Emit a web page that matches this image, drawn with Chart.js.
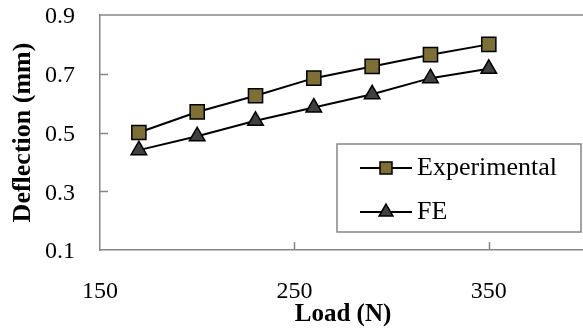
<!DOCTYPE html>
<html>
<head>
<meta charset="utf-8">
<script src="https://cdn.jsdelivr.net/npm/chart.js@4/dist/chart.umd.min.js"></script>
<style>
html,body{margin:0;padding:0;background:#fff;overflow:hidden;}
#wrap{width:583px;height:328px;overflow:hidden;}
canvas{display:block;}
</style>
</head>
<body>
<div id="wrap"><canvas id="c" width="600" height="328"></canvas></div>
<script>
// ---- data ----
const loads = [170, 200, 230, 260, 290, 320, 350];
const experimental = [0.50, 0.57, 0.625, 0.685, 0.725, 0.765, 0.80];
const fe = [0.44, 0.487, 0.54, 0.585, 0.63, 0.685, 0.717];
const xTicks = [150, 250, 350];
const yTicks = [0.1, 0.3, 0.5, 0.7, 0.9];
const seriesNames = ['Experimental', 'FE'];
const xTitle = 'Load (N)';
const yTitle = 'Deflection (mm)';

const AXIS = '#868686';
const SERIF = "'Liberation Serif', 'Times New Roman', serif";

function pts(ys){ return loads.map((x,i)=>({x:x, y:ys[i]})); }

const frame = {
  id: 'frame',
  afterDraw(chart){
    const {ctx, chartArea:a, scales:{x, y}} = chart;
    ctx.save();
    ctx.strokeStyle = AXIS;
    ctx.lineWidth = 1.5;
    // top border
    ctx.beginPath();
    ctx.moveTo(a.left, a.top); ctx.lineTo(a.right, a.top);
    ctx.stroke();
    // inner tick marks
    ctx.beginPath();
    yTicks.forEach(v=>{
      if (v === y.min || v === y.max) return;
      const py = Math.round(y.getPixelForValue(v)) + 0.5;
      ctx.moveTo(a.left, py); ctx.lineTo(a.left + 8, py);
    });
    xTicks.forEach(v=>{
      if (v === x.min || v === x.max) return;
      const px = Math.round(x.getPixelForValue(v)) + 0.5;
      ctx.moveTo(px, a.bottom); ctx.lineTo(px, a.bottom - 8);
    });
    ctx.stroke();

    // legend
    const bx = 337, by = 144, bw = 244, bh = 88;
    ctx.fillStyle = '#fff';
    ctx.fillRect(bx, by, bw, bh);
    ctx.strokeStyle = AXIS;
    ctx.lineWidth = 1.5;
    ctx.strokeRect(bx, by, bw, bh);
    const rows = [168, 212];
    chart.data.datasets.forEach((ds, i)=>{
      const ry = rows[i];
      ctx.strokeStyle = ds.borderColor;
      ctx.lineWidth = 2;
      ctx.beginPath();
      ctx.moveTo(360, ry); ctx.lineTo(412, ry);
      ctx.stroke();
      ctx.fillStyle = ds.pointBackgroundColor;
      ctx.strokeStyle = ds.pointBorderColor;
      ctx.lineWidth = ds.pointBorderWidth;
      Chart.helpers.drawPoint(ctx, {
        pointStyle: ds.pointStyle,
        radius: ds.pointStyle === 'rect' ? 8.5 : 8,
        rotation: 0,
        borderWidth: ds.pointBorderWidth
      }, 386, ry);
      ctx.fillStyle = '#000';
      ctx.font = '26px ' + SERIF;
      ctx.textAlign = 'left';
      ctx.textBaseline = 'middle';
      ctx.fillText(ds.label, 417, ry);
    });
    ctx.restore();
  }
};

new Chart(document.getElementById('c'), {
  type: 'line',
  data: {
    datasets: [
      {
        label: seriesNames[0],
        data: pts(experimental),
        borderColor: '#000',
        borderWidth: 2,
        pointStyle: 'rect',
        pointRadius: 10,
        pointBackgroundColor: '#7d6f35',
        pointBorderColor: '#000',
        pointBorderWidth: 1.5,
        tension: 0
      },
      {
        label: seriesNames[1],
        data: pts(fe),
        borderColor: '#000',
        borderWidth: 2,
        pointStyle: 'triangle',
        pointRadius: 9,
        pointBackgroundColor: '#404040',
        pointBorderColor: '#000',
        pointBorderWidth: 1.5,
        tension: 0
      }
    ]
  },
  options: {
    responsive: false,
    animation: false,
    devicePixelRatio: 1,
    layout: { padding: { top: 15, right: 14, left: 0, bottom: 0 } },
    plugins: { legend: { display: false }, tooltip: { enabled: false } },
    scales: {
      x: {
        type: 'linear',
        min: 150, max: 400,
        afterBuildTicks: s => { s.ticks = xTicks.map(v=>({value:v})); },
        afterFit: s => { s.height = 78; s.paddingLeft = 0; s.paddingRight = 0; },
        grid: { display: false, drawTicks: false },
        border: { display: true, color: AXIS, width: 1.5 },
        ticks: {
          padding: 27,
          color: '#000',
          font: { family: SERIF, size: 24 },
          maxRotation: 0,
          autoSkip: false
        },
        title: {
          display: true,
          text: xTitle,
          color: '#000',
          font: { family: SERIF, size: 25, weight: 'bold', lineHeight: 1 },
          padding: { top: 0, bottom: 0.5 }
        }
      },
      y: {
        min: 0.1, max: 0.9,
        afterBuildTicks: s => { s.ticks = yTicks.map(v=>({value:v})); },
        afterFit: s => { s.width = 100; s.paddingTop = 0; s.paddingBottom = 0; },
        grid: { display: false, drawTicks: false },
        border: { display: true, color: AXIS, width: 1.5 },
        ticks: {
          padding: 25,
          labelOffset: 2,
          color: '#000',
          font: { family: SERIF, size: 24 },
          callback: v => v.toFixed(1)
        },
        title: {
          display: true,
          text: yTitle,
          color: '#000',
          font: { family: SERIF, size: 26, weight: 'bold', lineHeight: 1 },
          padding: { top: 10, bottom: 0 }
        }
      }
    }
  },
  plugins: [frame]
});
</script>
</body>
</html>
